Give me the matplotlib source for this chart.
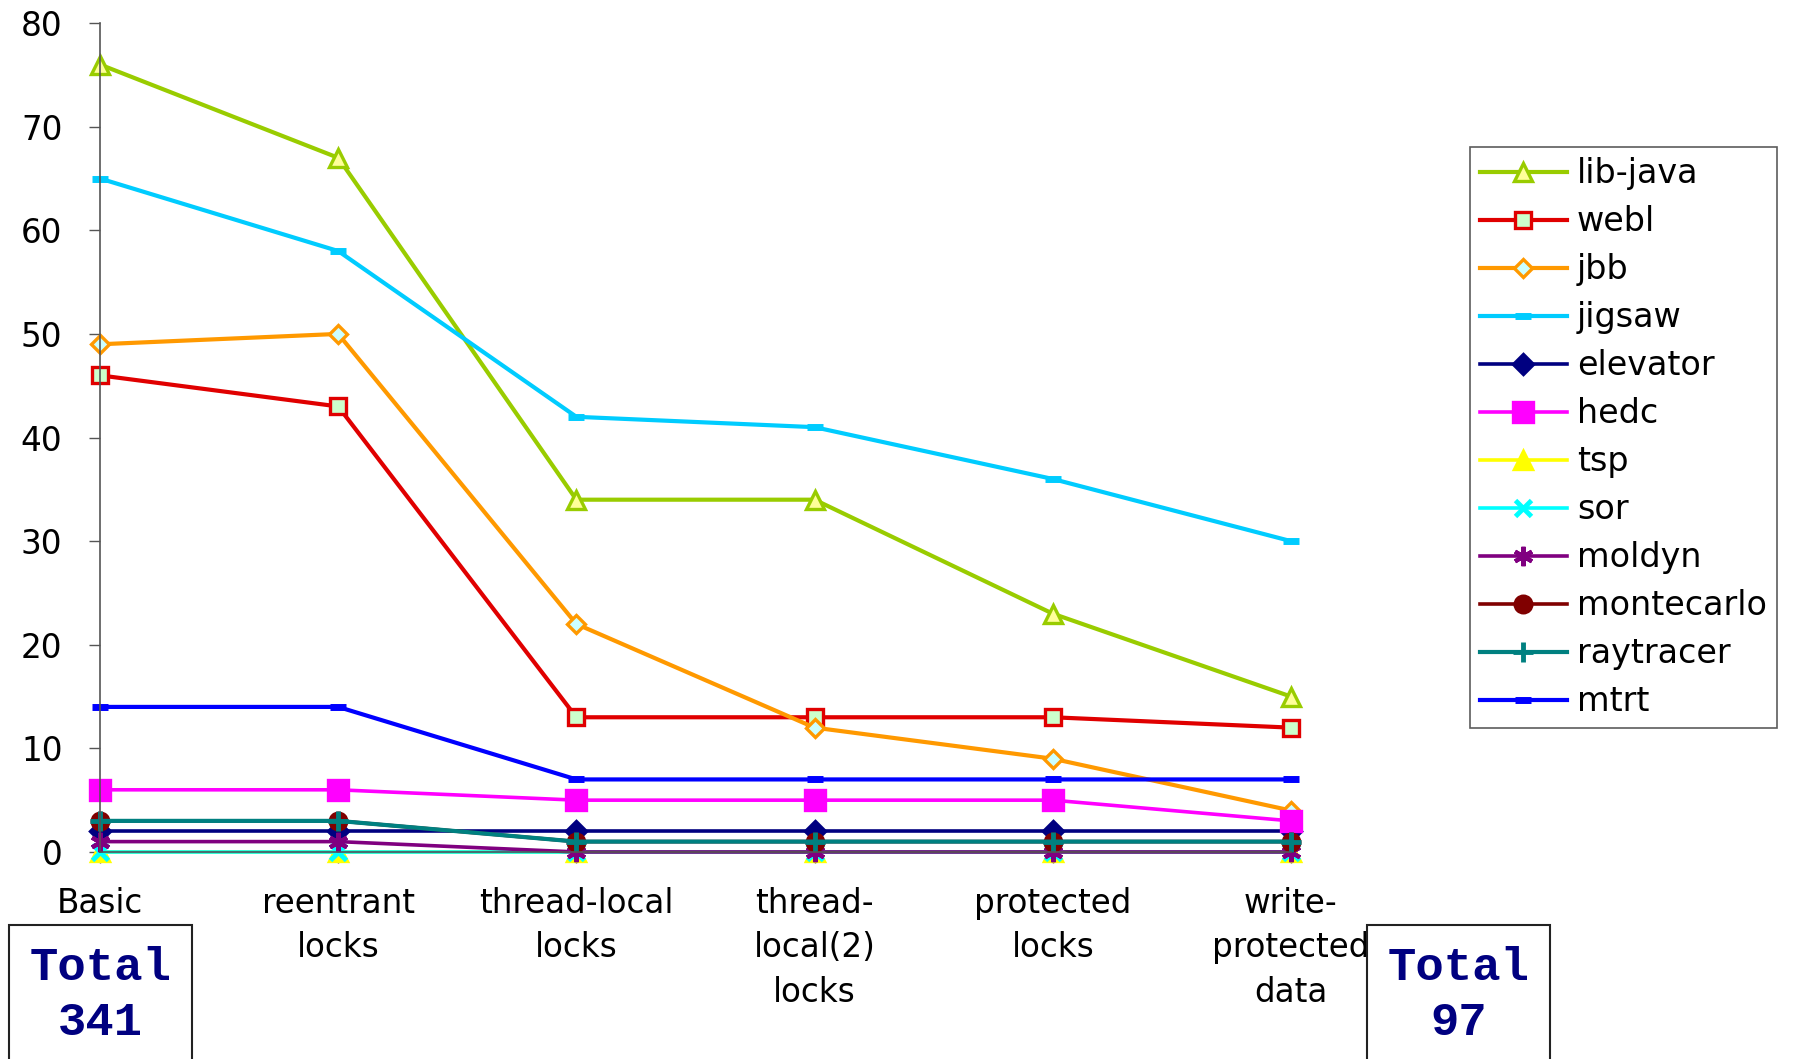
import numpy as np
import matplotlib
matplotlib.use("Agg")
import matplotlib.pyplot as plt
from matplotlib.patches import Rectangle

categories = ["Basic", "reentrant\nlocks", "thread-local\nlocks",
              "thread-\nlocal(2)\nlocks", "protected\nlocks", "write-\nprotected\ndata"]

lib_java = [76, 67, 34, 34, 23, 15]
webl = [46, 43, 13, 13, 13, 12]
jbb = [49, 50, 22, 12, 9, 4]
jigsaw = [65, 58, 42, 41, 36, 30]
elevator = [2, 2, 2, 2, 2, 2]
hedc = [6, 6, 5, 5, 5, 3]
tsp = [0, 0, 0, 0, 0, 0]
sor = [0, 0, 0, 0, 0, 0]
moldyn = [1, 1, 0, 0, 0, 0]
montecarlo = [3, 3, 1, 1, 1, 1]
raytracer = [3, 3, 1, 1, 1, 1]
mtrt = [14, 14, 7, 7, 7, 7]

total_before = "Total\n341"
total_after = "Total\n97"

# name, values, colour, marker, marker face, marker size, line width
series = [
    ("lib-java", lib_java, "#99CC00", "^", "#FFFF99", 13, 3.0),
    ("webl", webl, "#E00000", "s", "#CCFFCC", 12, 3.0),
    ("jbb", jbb, "#FF9900", "D", "#CCFFFF", 9, 3.0),
    ("jigsaw", jigsaw, "#00CCFF", "_", "#00CCFF", 12, 3.0),
    ("elevator", elevator, "#000080", "D", "#000080", 10, 2.6),
    ("hedc", hedc, "#FF00FF", "s", "#FF00FF", 14, 2.6),
    ("tsp", tsp, "#FFFF00", "^", "#FFFF00", 13, 2.6),
    ("sor", sor, "#00FFFF", "x", "#00FFFF", 12, 2.6),
    ("moldyn", moldyn, "#800080", "*", "#800080", 1, 2.6),
    ("montecarlo", montecarlo, "#800000", "o", "#800000", 12, 2.6),
    ("raytracer", raytracer, "#008080", "+", "#008080", 15, 3.0),
    ("mtrt", mtrt, "#0000FF", "_", "#0000FF", 12, 3.0),
]

plt.rcParams["font.family"] = ["DejaVu Sans"]

fig = plt.figure(figsize=(17.95, 10.59), dpi=100)
ax = fig.add_axes([0.0557, 0.1955, 0.6635, 0.7827])
x = np.arange(len(categories))

for name, vals, col, mk, face, ms, lw in series:
    if mk == "*":
        # asterisk marker drawn as 6-pointed star of lines
        ax.plot(x, vals, color=col, lw=lw, marker=(6, 2, 0), ms=14,
                mew=3, label=name, clip_on=False)
    else:
        mew = 5 if mk == "_" else (3.5 if mk in ("x", "+") else 2.4)
        ax.plot(x, vals, color=col, lw=lw, marker=mk, ms=ms,
                mfc=face, mec=col, mew=mew, label=name, clip_on=False)

ax.set_xlim(0, 5)
ax.set_ylim(0, 80)
ax.set_yticks(np.arange(0, 81, 10))
ax.set_xticks(x)
ax.set_xticklabels(categories, linespacing=1.45)
ax.tick_params(axis="both", labelsize=23.5, direction="out", length=8,
               width=1, color="#555555")
ax.tick_params(axis="x", pad=17)
ax.tick_params(axis="y", pad=19)
for s in ("top", "right"):
    ax.spines[s].set_visible(False)
for s in ("left", "bottom"):
    ax.spines[s].set_color("#555555")
    ax.spines[s].set_linewidth(1.2)

leg = fig.legend(loc="upper left", bbox_to_anchor=(0.819, 0.861),
                 fontsize=24, handlelength=2.6, labelspacing=0.45,
                 borderpad=0.3, handletextpad=0.3, fancybox=False,
                 frameon=True, borderaxespad=0)
leg.get_frame().set_edgecolor("#333333")
leg.get_frame().set_linewidth(1.2)

for x0, txt in ((0.005, total_before), (0.7616, total_after)):
    fig.patches.append(Rectangle((x0, -0.05), 0.102, 0.1765,
                                 transform=fig.transFigure, fill=False,
                                 ec="#222222", lw=1.5))
    fig.text(x0 + 0.051, 0.06, txt, ha="center", va="center",
             family="Liberation Mono", weight="bold", fontsize=34,
             color="#000080", linespacing=1.3)

fig.savefig("out.png", dpi=100)
